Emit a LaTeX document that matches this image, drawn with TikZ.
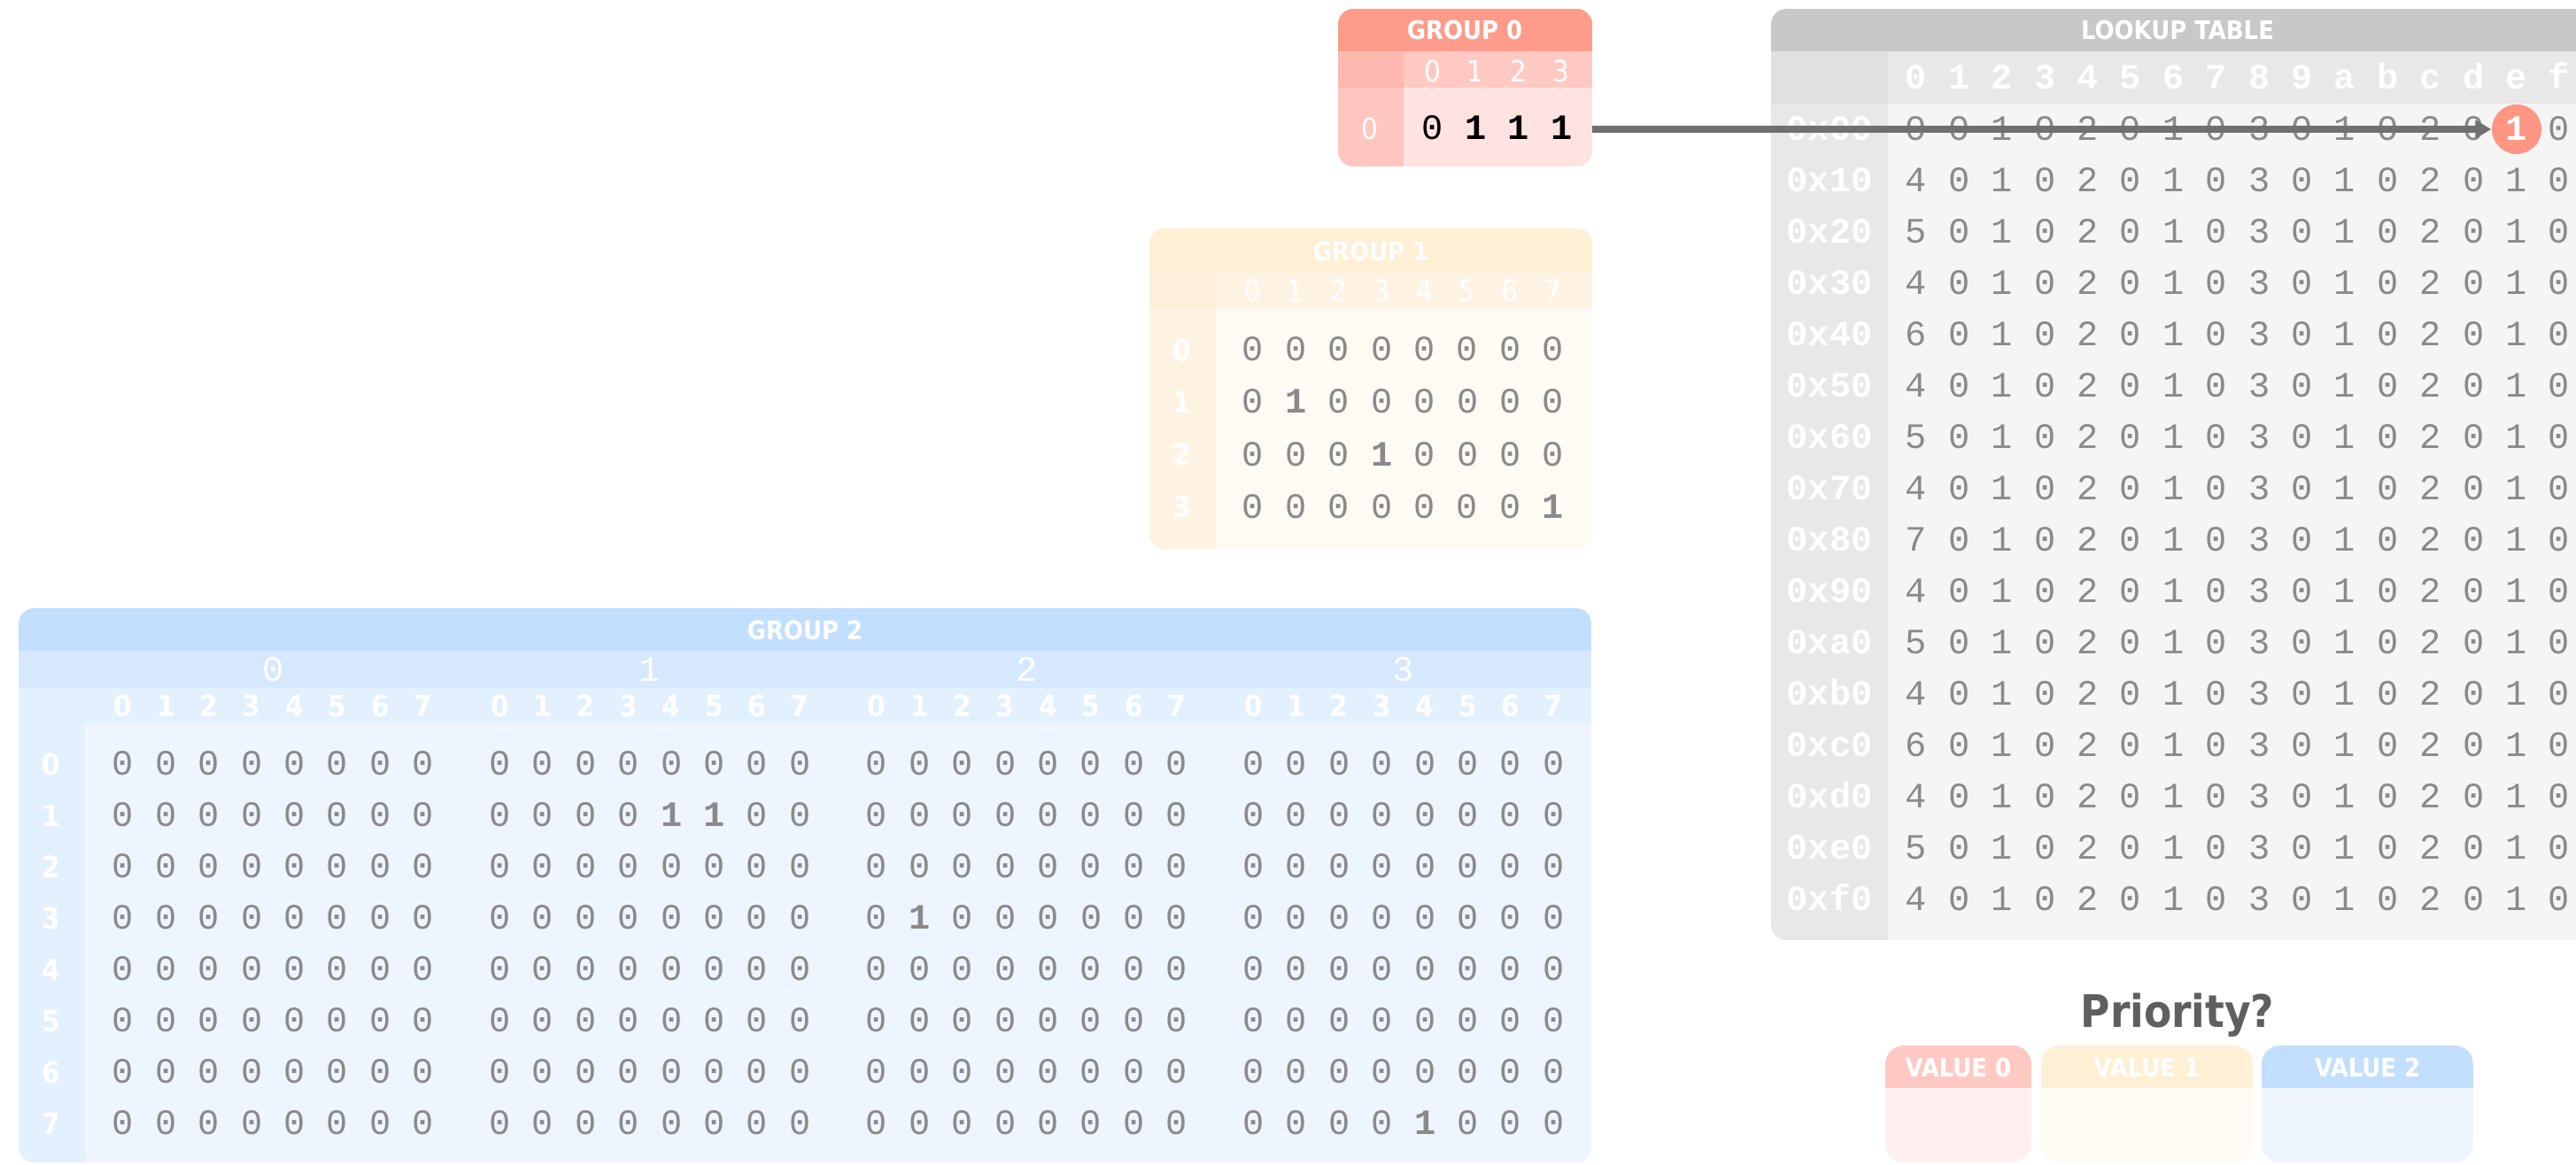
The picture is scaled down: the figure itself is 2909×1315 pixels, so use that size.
\documentclass[tikz,border=0pt]{standalone}
\usepackage{fontspec}
\setmonofont{Liberation Mono}
\newfontfamily\hdfont{DejaVu Sans Condensed}
\usetikzlibrary{arrows.meta}

\definecolor{g0head}{HTML}{FF9B8A}
\definecolor{g0band}{HTML}{FFC9C3}
\definecolor{g0corner}{HTML}{FFB8AF}
\definecolor{g0side}{HTML}{FFC6C0}
\definecolor{g0body}{HTML}{FFE3E1}
\definecolor{g1head}{HTML}{FFEFD4}
\definecolor{g1band}{HTML}{FFF4E4}
\definecolor{g1corner}{HTML}{FFF0DC}
\definecolor{g1body}{HTML}{FFFAF4}
\definecolor{g2head}{HTML}{C3DFFF}
\definecolor{g2band}{HTML}{D6E8FD}
\definecolor{g2col}{HTML}{E3F0FE}
\definecolor{g2body}{HTML}{EEF5FE}
\definecolor{lthead}{HTML}{C8C8C8}
\definecolor{ltcorner}{HTML}{E0E0E0}
\definecolor{ltband}{HTML}{E8E8E8}
\definecolor{ltbody}{HTML}{F5F5F5}
\definecolor{valgrey}{HTML}{8A8A8A}
\definecolor{arrowgrey}{HTML}{707070}
\definecolor{hitred}{HTML}{FF9583}
\definecolor{priogrey}{HTML}{5F5F5F}
\definecolor{v0head}{HTML}{FFC9C3}
\definecolor{v0body}{HTML}{FFF0EF}
\definecolor{v1head}{HTML}{FFEFD4}
\definecolor{v1body}{HTML}{FFFAF4}
\definecolor{v2head}{HTML}{C3DFFF}
\definecolor{v2body}{HTML}{EEF5FE}

\tikzset{
  hdtext/.style={font=\hdfont\bfseries\fontsize{8.2}{9}\selectfont, text=white,
    inner sep=0pt, text height=5.97pt, text depth=0pt},
  idx/.style={font=\hdfont\fontsize{9.4}{10}\selectfont, text=white,
    inner sep=0pt, text height=6.85pt, text depth=0pt},
  idxb/.style={idx, font=\hdfont\bfseries\fontsize{9.4}{10}\selectfont},
  bits/.style={font=\ttfamily\fontsize{11.47}{12}\selectfont, text=valgrey,
    inner sep=0pt, text height=7.1pt, text depth=0pt},
  hexhead/.style={bits, font=\ttfamily\bfseries\fontsize{11.47}{12}\selectfont, text=white},
  link/.style={draw=arrowgrey, line width=2pt, -{Triangle[length=0.18cm,width=0.2cm]}}
}

\begin{document}
\begin{tikzpicture}[x=0.01cm, y=-0.01cm]
    \useasboundingbox (0,0) rectangle (2909,1315);
    \clip (0,0) rectangle (2909,1315);
    \def\zr{0 0 0 0 0 0 0 0}

    % Group 0
    \begin{scope}
        \clip[rounded corners=5pt] (1511,10) rectangle (1798,188);
        \fill[g0body] (1511,10) rectangle (1798,188);
        \fill[g0side] (1511,99) rectangle (1585,188);
        \fill[g0band] (1585,58) rectangle (1798,99);
        \fill[g0corner] (1511,58) rectangle (1585,99);
        \fill[g0head] (1511,10) rectangle (1798,58);
    \end{scope}
    \node[hdtext] (g0title) at (1654,34) {GROUP 0};
    \foreach \c in {0,...,3}
        \node[idx] (g0c\c) at (1618+48.4*\c,80) {\c};
    \node[idx] (g0r0) at (1547,145) {0};
    \node[bits, text=black] (g0bits) at (1690.6,145) {0 \textbf{1} \textbf{1} \textbf{1}};

    % Group 1
    \begin{scope}
        \clip[rounded corners=5pt] (1298,258) rectangle (1798,621);
        \fill[g1body] (1298,258) rectangle (1798,621);
        \fill[g1band] (1298,349) rectangle (1373,621);
        \fill[g1band] (1373,307) rectangle (1798,349);
        \fill[g1corner] (1298,307) rectangle (1373,349);
        \fill[g1head] (1298,258) rectangle (1798,307);
    \end{scope}
    \node[hdtext] (g1title) at (1548,284) {GROUP 1};
    \foreach \c in {0,...,7}
        \node[idx] (g1c\c) at (1415+48.4*\c,328) {\c};
    \foreach \r/\row in {0/\zr, 1/{0 \textbf{1} 0 0 0 0 0 0},
                         2/{0 0 0 \textbf{1} 0 0 0 0}, 3/{0 0 0 0 0 0 0 \textbf{1}}} {
        \node[idxb] (g1r\r) at (1335,395+59.3*\r) {\r};
        \node[bits] (g1bits\r) at (1584.5,395+59.3*\r) {\row};
    }

    % Group 2
    \begin{scope}
        \clip[rounded corners=5pt] (21,687) rectangle (1797,1313);
        \fill[g2body] (21,687) rectangle (1797,1313);
        \fill[g2col] (21,777) rectangle (1797,817);
        \fill[g2col] (21,817) rectangle (96,1313);
        \fill[g2band] (21,735) rectangle (1797,777);
        \fill[g2head] (21,687) rectangle (1797,735);
    \end{scope}
    \node[hdtext] (g2title) at (909,712) {GROUP 2};
    \foreach \b in {0,...,3} {
        \node[bits, text=white] (g2blk\b) at (308.5+425.5*\b,757) {\b};
        \foreach \c in {0,...,7}
            \node[idxb] (g2c\b\c) at (139+425.5*\b+48.4*\c,797) {\c};
    }
    \foreach \r/\ba/\bb/\bc/\bd in {
            0/\zr/\zr/\zr/\zr,
            1/\zr/{0 0 0 0 \textbf{1} \textbf{1} 0 0}/\zr/\zr,
            2/\zr/\zr/\zr/\zr,
            3/\zr/\zr/{0 \textbf{1} 0 0 0 0 0 0}/\zr,
            4/\zr/\zr/\zr/\zr,
            5/\zr/\zr/\zr/\zr,
            6/\zr/\zr/\zr/\zr,
            7/\zr/\zr/\zr/{0 0 0 0 \textbf{1} 0 0 0}} {
        \node[idxb] (g2r\r) at (58,863+58*\r) {\r};
        \node[bits] (g2bits\r a) at (308.5,863+58*\r) {\ba};
        \node[bits] (g2bits\r b) at (734,863+58*\r) {\bb};
        \node[bits] (g2bits\r c) at (1159.5,863+58*\r) {\bc};
        \node[bits] (g2bits\r d) at (1585,863+58*\r) {\bd};
    }

    % Lookup table
    \begin{scope}
        \clip[rounded corners=5pt] (2000,10) rectangle (2930,1062);
        \fill[ltbody] (2000,10) rectangle (2930,1062);
        \fill[ltband] (2000,117) rectangle (2132,1062);
        \fill[ltband] (2132,58) rectangle (2930,117);
        \fill[ltcorner] (2000,58) rectangle (2132,117);
        \fill[lthead] (2000,10) rectangle (2930,58);
    \end{scope}
    \node[hdtext] (lttitle) at (2459,34) {LOOKUP TABLE};
    \node[hexhead] (ltcols) at (2527,88) {0 1 2 3 4 5 6 7 8 9 a b c d e f};
    \node[hexhead] (lt0) at (2066,146) {0x00};
    \node[bits] (ltrow0) at (2527,146) {0 0 1 0 2 0 1 0 3 0 1 0 2 0 \phantom{1} 0};
    \foreach \k/\h/\first in {1/1/4, 2/2/5, 3/3/4, 4/4/6, 5/5/4, 6/6/5, 7/7/4,
                              8/8/7, 9/9/4, 10/a/5, 11/b/4, 12/c/6, 13/d/4, 14/e/5, 15/f/4} {
        \node[hexhead] (lt\h) at (2066,146+58*\k) {0x\h0};
        \node[bits] (ltrow\h) at (2527,146+58*\k) {\first{} 0 1 0 2 0 1 0 3 0 1 0 2 0 1 0};
    }
    \node[circle, fill=hitred, minimum size=0.56cm, inner sep=0pt, hexhead] (hit) at (2842,146) {1};

    % Group 0 points into the table
    \coordinate (g0out) at (1798,146);
    \draw[link] (g0out) -- (hit.west);

    % Priority boxes
    \node[font=\hdfont\bfseries\fontsize{14.4}{16}\selectfont, text=priogrey, inner sep=0pt] (prio) at (2459,1147) {Priority?};
    \foreach \i/\xa/\xb in {0/2129/2294, 1/2305/2544, 2/2554/2793} {
        \begin{scope}
            \clip[rounded corners=6pt] (\xa,1181) rectangle (\xb,1313);
            \fill[v\i body] (\xa,1181) rectangle (\xb,1313);
            \fill[v\i head] (\xa,1181) rectangle (\xb,1229);
        \end{scope}
        \node[hdtext] (val\i) at ({(\xa+\xb)/2},1206) {VALUE \i};
    }

\end{tikzpicture}
\end{document}
